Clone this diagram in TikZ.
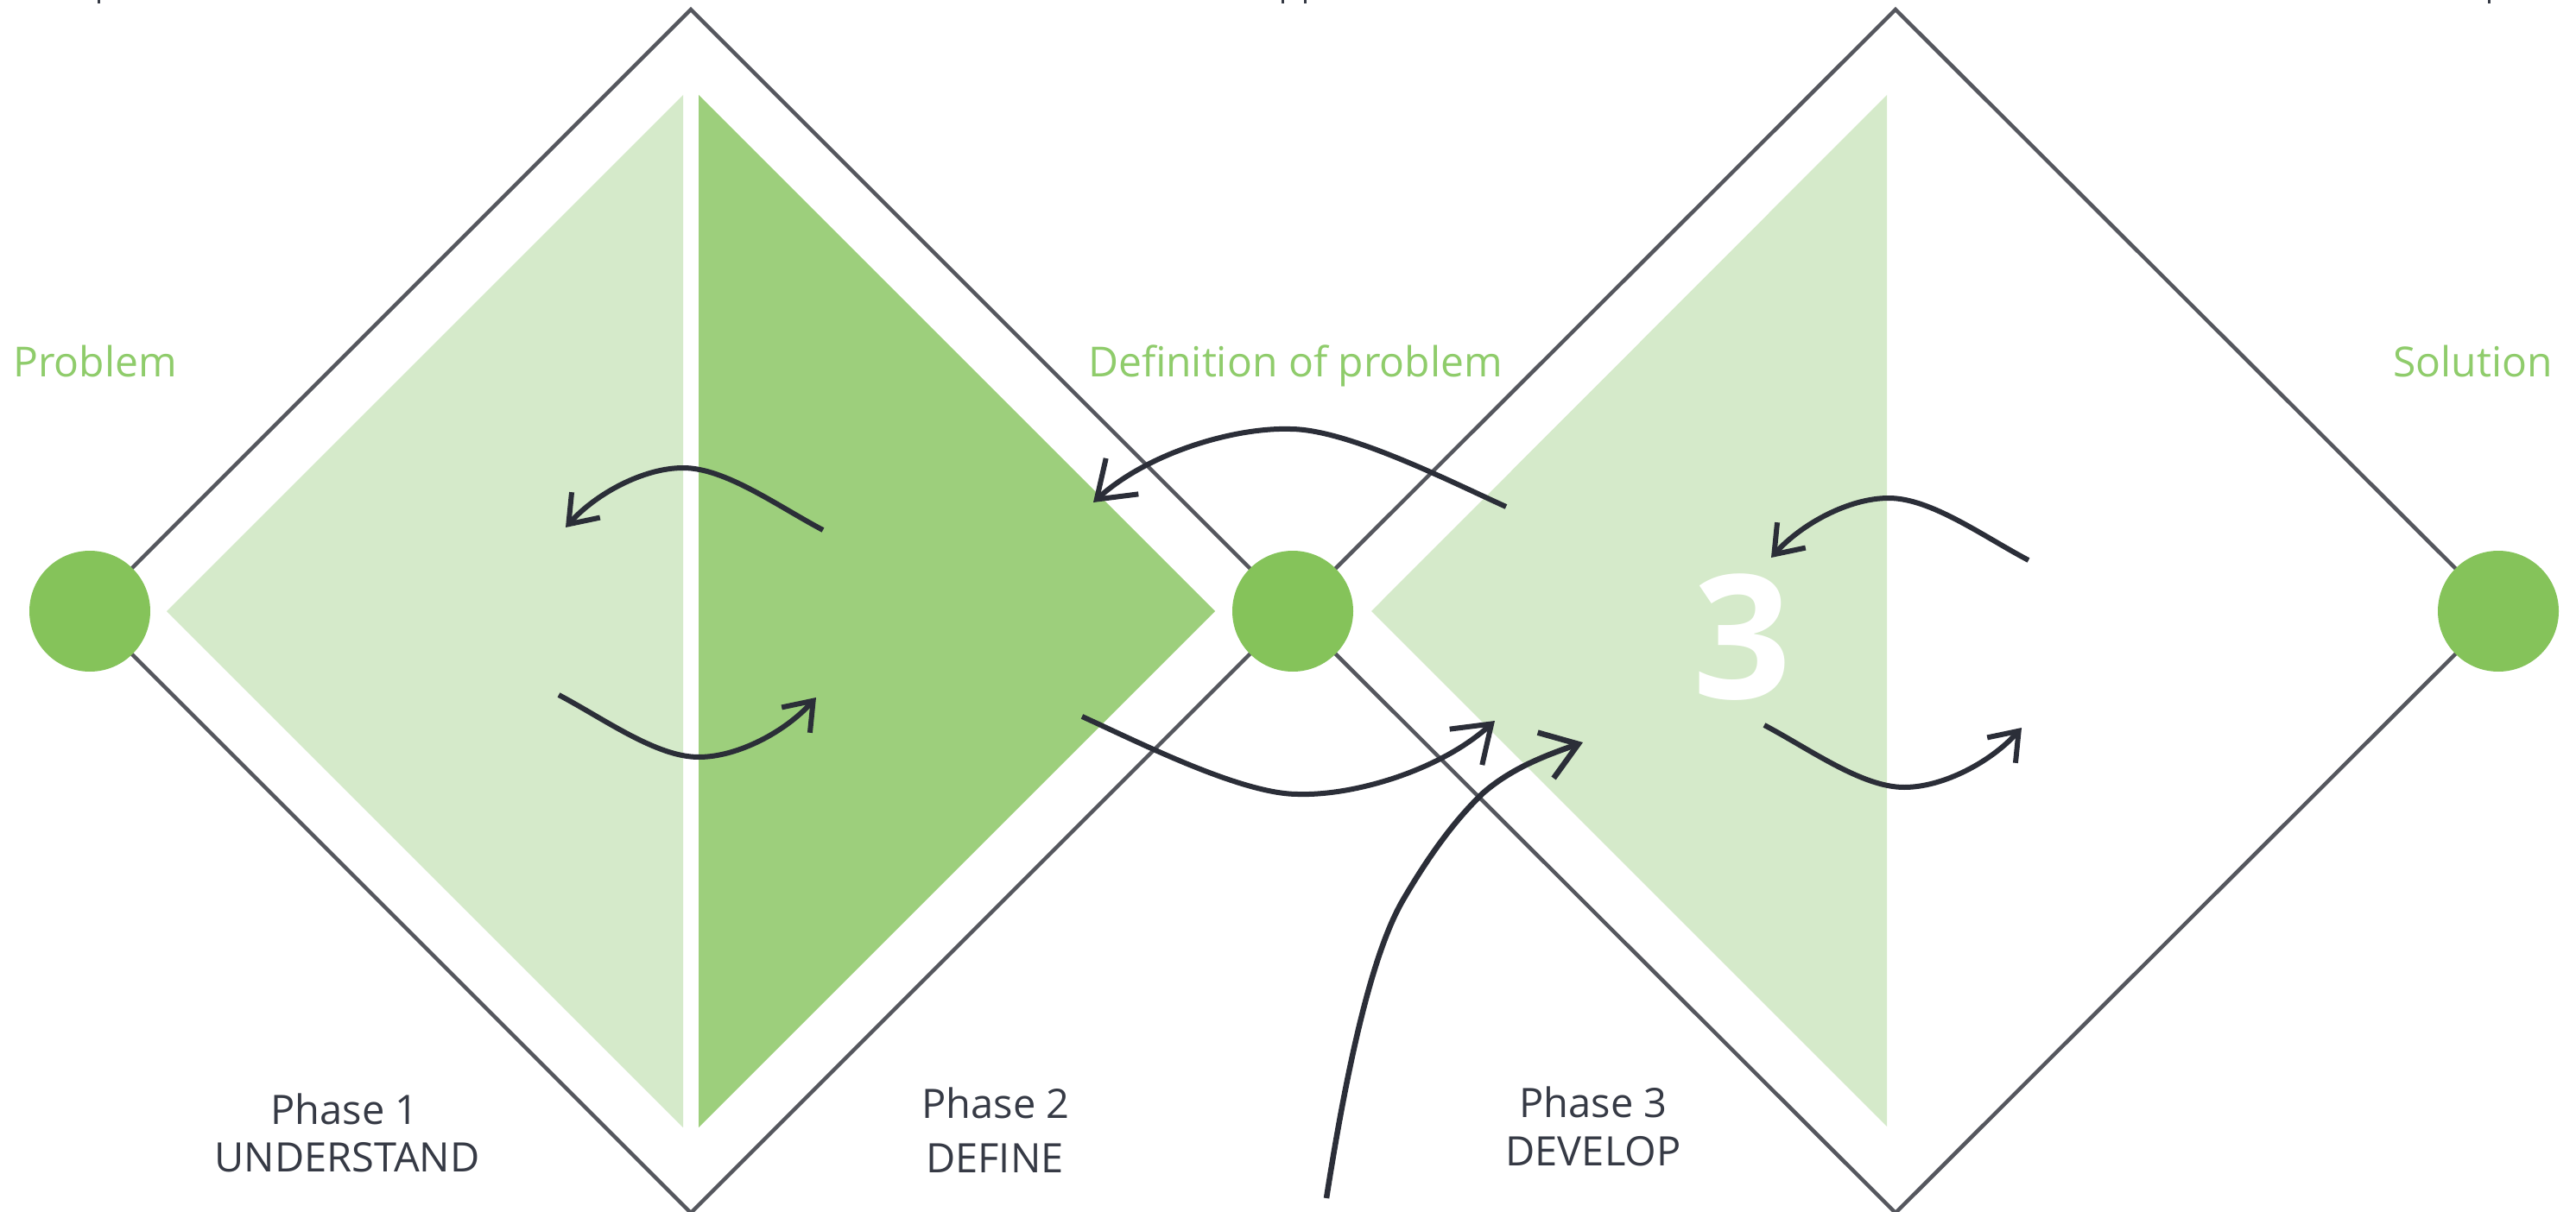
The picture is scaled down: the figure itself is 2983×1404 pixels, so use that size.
\documentclass[tikz,border=0pt]{standalone}
\usepackage{fontspec}
\setmainfont{Open Sans}
\usetikzlibrary{arrows.meta}
\definecolor{linegray}{HTML}{55575E}
\definecolor{textdark}{HTML}{363A45}
\definecolor{labelgreen}{HTML}{8FCC6B}
\definecolor{dotgreen}{HTML}{85C35A}
\definecolor{lightfill}{HTML}{D5EACA}
\definecolor{darkfill}{HTML}{9DCF7C}
\definecolor{arrowdark}{HTML}{2B2E38}
\begin{document}
\begin{tikzpicture}[x=1pt,y=-1pt,
  outline/.style={draw=linegray,line width=4.5pt,line join=miter},
  stagedot/.style={circle,fill=dotgreen,minimum size=140pt,inner sep=0pt},
  greenlabel/.style={text=labelgreen,font=\fontsize{48}{58}\selectfont,inner sep=0pt},
  phaselabel/.style={text=textdark,font=\fontsize{47}{56}\selectfont,inner sep=0pt,anchor=base},
  curvearrow/.style={draw=arrowdark,line width=6pt},
  smallhead/.style={-{Straight Barb[length=30pt,width=44pt,line cap=butt]}},
  bighead/.style={-{Straight Barb[length=40pt,width=56pt,line cap=butt]}},
]
\useasboundingbox (0,0) rectangle (2983,1404);
\fill[white] (0,0) rectangle (2983,1404);
% cut-off text strokes at the top edge
\fill[textdark] (113,0) rectangle (116,4);
\fill[textdark] (1484,0) rectangle (1487,4);
\fill[textdark] (1510,0) rectangle (1513,4);
\fill[textdark] (2881,0) rectangle (2884,4);
% inner fills
\fill[lightfill] (791,110) -- (193,708) -- (791,1306) -- cycle;
\fill[darkfill] (809,110) -- (1407,708) -- (809,1306) -- cycle;
\fill[lightfill] (2185,110) -- (1588,708) -- (2185,1305) -- cycle;
% diamond outlines
\draw[outline] (103,708) -- (800,11) -- (1497,708) -- (800,1405) -- cycle;
\draw[outline] (1497,708) -- (2195,11) -- (2893,708) -- (2195,1405) -- cycle;
% stage dots
\node[stagedot] (problemdot) at (104,708) {};
\node[stagedot] (definitiondot) at (1497,708) {};
\node[stagedot] (solutiondot) at (2893,708) {};
% big number
\node[text=white,inner sep=0pt,font=\fontsize{200}{200}\selectfont\bfseries] (three) at (2018,738) {3};
% labels
\node[greenlabel,anchor=base west] (problem) at (15,436) {Problem};
\node[greenlabel,anchor=base] (definition) at (1500,436) {Definition of problem};
\node[greenlabel,anchor=base east] (solution) at (2956,436) {Solution};
\node[phaselabel] (ph1) at (399,1302) {Phase 1};
\node[phaselabel] (ph1b) at (402,1357) {UNDERSTAND};
\node[phaselabel] (ph2) at (1153,1295) {Phase 2};
\node[phaselabel] (ph2b) at (1152,1358) {DEFINE};
\node[phaselabel] (ph3) at (1845,1294) {Phase 3};
\node[phaselabel] (ph3b) at (1845,1350) {DEVELOP};
% arrow end points
\coordinate (aS) at (953,614); \coordinate (aP) at (791,542); \coordinate (aT) at (655,611);
\coordinate (bS) at (647,805); \coordinate (bP) at (809,877); \coordinate (bT) at (945,808);
\coordinate (cS) at (1744,587); \coordinate (cP) at (1494,497); \coordinate (cT) at (1266,582);
\coordinate (dS) at (1253,830); \coordinate (dP) at (1503,920); \coordinate (dT) at (1731,835);
\coordinate (eS) at (1536,1388); \coordinate (eM) at (1625,1042); \coordinate (eN) at (1717,919); \coordinate (eT) at (1833,860);
\coordinate (fS) at (2349,649); \coordinate (fP) at (2187,577); \coordinate (fT) at (2051,646);
\coordinate (gS) at (2043,840); \coordinate (gP) at (2205,912); \coordinate (gT) at (2341,843);
% arrows
\draw[curvearrow,smallhead] (aS) .. controls (900,586) and (840,542) .. (aP) .. controls (745,542) and (690,572) .. (aT);
\draw[curvearrow,smallhead] (bS) .. controls (700,833) and (760,877) .. (bP) .. controls (855,877) and (910,847) .. (bT);
\draw[curvearrow,bighead] (cS) .. controls (1680,558) and (1560,497) .. (cP) .. controls (1430,495) and (1330,524) .. (cT);
\draw[curvearrow,bighead] (dS) .. controls (1317,859) and (1437,920) .. (dP) .. controls (1567,922) and (1667,893) .. (dT);
\draw[curvearrow,bighead,line width=6.5pt] (eS) .. controls (1556,1260) and (1585,1110) .. (eM) .. controls (1660,982) and (1690,945) .. (eN) .. controls (1750,890) and (1790,875) .. (eT);
\draw[curvearrow,smallhead] (fS) .. controls (2296,621) and (2236,577) .. (fP) .. controls (2141,577) and (2086,607) .. (fT);
\draw[curvearrow,smallhead] (gS) .. controls (2096,868) and (2156,912) .. (gP) .. controls (2251,912) and (2306,882) .. (gT);
\end{tikzpicture}
\end{document}
